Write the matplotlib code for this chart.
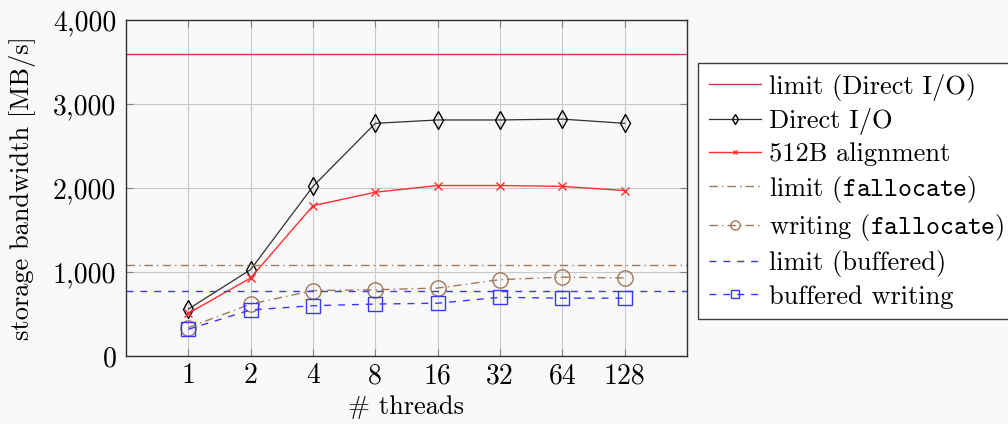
import matplotlib
matplotlib.use("Agg")
import matplotlib.pyplot as plt
from matplotlib.ticker import FuncFormatter

plt.rcParams['font.family'] = ['cmr10', 'DejaVu Serif']
plt.rcParams['mathtext.fontset'] = 'cm'
plt.rcParams['axes.formatter.use_mathtext'] = True
plt.rcParams['axes.unicode_minus'] = False

threads = ["1", "2", "4", "8", "16", "32", "64", "128"]
direct_io = [560, 1030, 2020, 2770, 2810, 2810, 2820, 2770]
align512 = [510, 930, 1790, 1950, 2030, 2030, 2020, 1970]
writing_falloc = [340, 620, 780, 790, 810, 910, 940, 930]
buffered = [320, 550, 600, 620, 630, 700, 690, 690]
limit_direct = 3600
limit_falloc = 1080
limit_buffered = 770

bg = '#f9f9f9'
fig = plt.figure(figsize=(10.08, 4.24), dpi=100, facecolor=bg)
ax = fig.add_axes([0.125, 0.160, 0.5565, 0.793])
ax.set_facecolor(bg)

x = list(range(1, len(threads) + 1))

c_lim_direct = '#c8385a'
c_red = '#ff3030'
c_brown = '#a0785a'
c_blue = '#3838ff'

ax.axhline(limit_direct, color=c_lim_direct, lw=1.0, label='limit (Direct I/O)')
ax.plot(x, direct_io, color='#303030', lw=0.9, marker='d', ms=9, mfc='none', mec='black',
        mew=1.0, label='Direct I/O')
ax.plot(x, align512, color=c_red, lw=1.0, marker='x', ms=6, mew=1.0, label='512B alignment')
ax.axhline(limit_falloc, color=c_brown, lw=1.0, ls=(0, (6, 3, 1, 3)),
           label=r'limit ($\mathtt{fallocate}$)')
ax.plot(x, writing_falloc, color=c_brown, lw=1.0, ls=(0, (6, 3, 1, 3)), marker='o', ms=11,
        mfc='none', mew=1.0, label=r'writing ($\mathtt{fallocate}$)')
ax.axhline(limit_buffered, color=c_blue, lw=1.0, ls=(0, (5, 5)), label='limit (buffered)')
ax.plot(x, buffered, color=c_blue, lw=1.0, ls=(0, (5, 5)), marker='s', ms=10,
        mfc='none', mew=1.0, label='buffered writing')

ax.set_xlim(0, 9)
ax.set_ylim(0, 4000)
ax.set_xticks(x)
ax.set_xticklabels(threads)
ax.set_yticks([0, 1000, 2000, 3000, 4000])
ax.yaxis.set_major_formatter(FuncFormatter(lambda v, p: f"{int(v):,}"))
ax.grid(True, color='#c8c8c8', lw=0.8)
ax.set_axisbelow(True)
ax.tick_params(direction='in', top=True, right=True, length=5, color='#808080',
               labelsize=20, pad=7)
ax.tick_params(axis='x', pad=5)
for s in ax.spines.values():
    s.set_color('#303030')
    s.set_linewidth(1.0)

ax.set_xlabel('# threads', fontsize=19, labelpad=4)
ax.set_ylabel('storage bandwidth [MB/s]', fontsize=19, labelpad=12)

leg = fig.legend(loc='upper left', bbox_to_anchor=(0.6925, 0.851), fontsize=19,
                 frameon=True, fancybox=False, edgecolor='#404040', facecolor='white',
                 framealpha=1.0, handlelength=2.0, handletextpad=0.3, labelspacing=0.28,
                 borderpad=0.4, borderaxespad=0, markerscale=0.6)
leg.get_frame().set_linewidth(1.0)

fig.savefig('out.png', dpi=100, facecolor=bg)
